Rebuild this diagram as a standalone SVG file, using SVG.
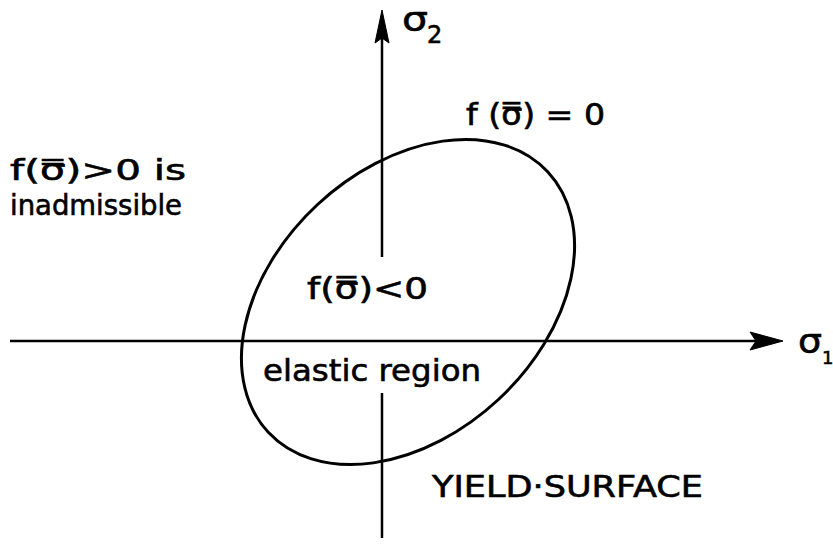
<svg xmlns="http://www.w3.org/2000/svg" width="833" height="546" viewBox="0 0 833 546">
<style>
.ax{stroke:#000;stroke-width:2.5;fill:none}
.hd{fill:#000;stroke:#000;stroke-width:1}
.curve{stroke:#000;stroke-width:3;fill:none}
.t{font-family:"DejaVu Sans","Liberation Sans",sans-serif;font-size:30px;fill:#000;stroke:#000;stroke-width:0.6}
.s{font-size:28px}
.g{font-family:"DejaVu Sans","Liberation Sans",sans-serif;fill:#000;stroke:#000;stroke-width:0.6}
</style>
<rect width="833" height="546" fill="#fff"/>
<g id="connectors">
  <line class="ax" x1="10" y1="341" x2="762" y2="341"/>
  <polygon class="hd" points="783,341 750,332 756,341 750,350"/>
  <line class="ax" x1="382" y1="30" x2="382" y2="257"/>
  <line class="ax" x1="382" y1="393" x2="382" y2="538"/>
  <polygon class="hd" points="382,10 375,43 382,38 389,43"/>
</g>
<g id="yield-surface">
  <ellipse class="curve" cx="408" cy="302" rx="191" ry="133" transform="rotate(-43 408 302)"/>
</g>
<g id="sigma2-label">
  <text class="g" x="402" y="31" font-size="34" textLength="26" lengthAdjust="spacingAndGlyphs">σ</text>
  <text class="g" x="427" y="43" font-size="24">2</text>
</g>
<g id="sigma1-label">
  <text class="g" x="798" y="353" font-size="34" textLength="24" lengthAdjust="spacingAndGlyphs">σ</text>
  <text class="g" x="822" y="364" font-size="18">1</text>
</g>
<g id="surface-label">
  <text class="t" x="466" y="125" textLength="139" lengthAdjust="spacingAndGlyphs">f (σ̿) = 0</text>
</g>
<g id="inadmissible-label">
  <text class="t s" x="10" y="180" textLength="176" lengthAdjust="spacingAndGlyphs">f(σ̿)&gt;0 is</text>
  <text class="t s" x="10" y="215" textLength="172" lengthAdjust="spacingAndGlyphs">inadmissible</text>
</g>
<g id="elastic-label">
  <text class="t" x="307" y="299" textLength="121" lengthAdjust="spacingAndGlyphs">f(σ̿)&lt;0</text>
  <text class="t" x="263" y="381" textLength="218" lengthAdjust="spacingAndGlyphs">elastic region</text>
</g>
<g id="yield-label">
  <text class="t" x="432" y="497" textLength="271" lengthAdjust="spacingAndGlyphs">YIELD·SURFACE</text>
</g>
</svg>
